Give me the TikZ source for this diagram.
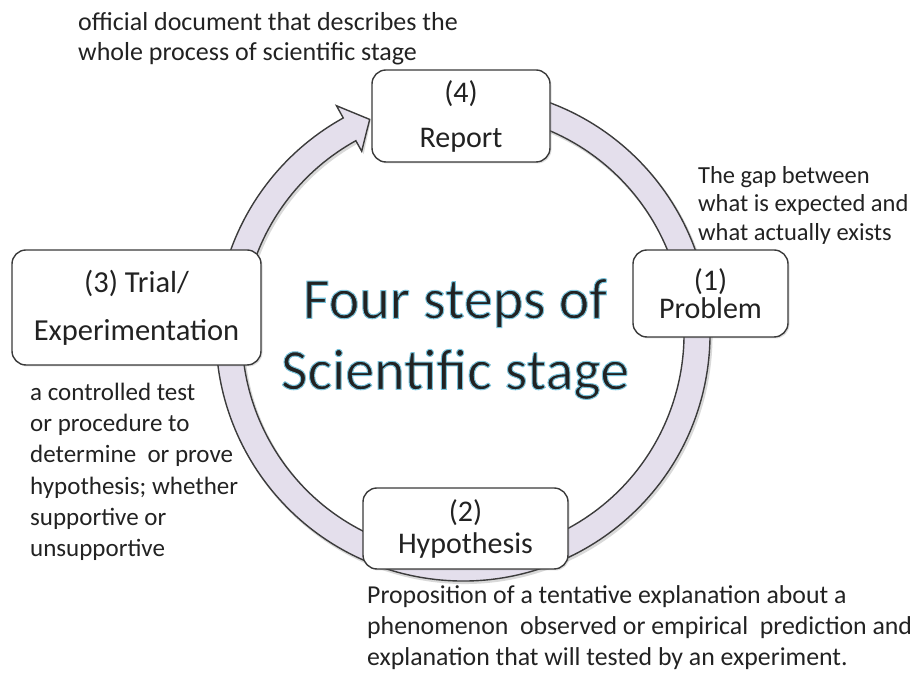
\documentclass[tikz,border=0pt]{standalone}
\usepackage{fontspec}
\setmainfont{Carlito}
\usetikzlibrary{shadows}
\definecolor{boxline}{HTML}{3A3A3A}
\definecolor{ringfill}{HTML}{E4DFEC}
\definecolor{ringline}{HTML}{3C3C3C}
\definecolor{txt}{HTML}{222222}
\newcommand\glowon{\special{pdf:literal direct 2 Tr 1.0 w 0.475 0.765 0.859 RG}}
\newcommand\glowoff{\special{pdf:literal direct 0 Tr}}
\begin{document}
\begin{tikzpicture}[x=1pt,y=1pt,
  stepbox/.style={draw=boxline, line width=1.4pt, fill=white, rounded corners=14pt,
    inner sep=0pt, align=center, text=txt,
    drop shadow={opacity=0.25, shadow xshift=1.5pt, shadow yshift=-1.5pt}},
  desc/.style={anchor=north west, inner sep=0pt, align=left, text=txt},
  ringstyle/.style={fill=ringfill, draw=ringline, line width=1.4pt, line join=miter},
  titlefont/.style={font=\fontsize{58}{71}\selectfont, align=center, inner sep=0pt}]
\useasboundingbox (0,0) rectangle (922,679);
% ring arrow (shadow, then ring)
\begin{scope}[shift={(464.5,343)}]
  \fill[black, opacity=0.15] (80:248pt) arc[start angle=80, end angle=-241, radius=248pt]
    -- (-241:262pt) -- (-246.5:235pt) -- (-241:208pt) -- (-241:220pt)
    arc[start angle=-241, end angle=80, radius=220pt] -- cycle;
\end{scope}
\begin{scope}[shift={(463,345)}]
  \path[ringstyle] (80:247pt) arc[start angle=80, end angle=-241, radius=247pt]
    -- (-241:261pt) -- (-246.5:234pt) -- (-241:209pt) -- (-241:221pt)
    arc[start angle=-241, end angle=80, radius=221pt] -- cycle;
\end{scope}
% title
\node[titlefont, text=txt] (title) at (455,340)
  {\glowon Four steps of\\Scientific stage\glowoff};
% step boxes
\node[stepbox, minimum width=178pt, minimum height=92pt, font=\fontsize{30}{45}\selectfont]
  (report) at (461,563) {(4)\\Report};
\node[stepbox, minimum width=155pt, minimum height=87pt, font=\fontsize{30}{28}\selectfont]
  (problem) at (710.5,385.5) {(1)\\Problem};
\node[stepbox, minimum width=205pt, minimum height=81pt, font=\fontsize{30}{32}\selectfont]
  (hyp) at (465.5,150.5) {(2)\\Hypothesis};
\node[stepbox, minimum width=249pt, minimum height=115pt, font=\fontsize{30.5}{48}\selectfont]
  (trial) at (136.5,371.5) {(3) Trial/\\Experimentation};
% descriptions
\node[desc, font=\fontsize{26}{30}\selectfont] (d4) at (78,667)
  {official document that describes the\\whole process of scientific stage};
\node[desc, font=\fontsize{24.5}{28.5}\selectfont] (d1) at (698,513)
  {The gap between\\what is expected and\\what actually exists};
\node[desc, font=\fontsize{25}{31.2}\selectfont] (d3) at (30,296)
  {a controlled test\\or procedure to\\determine \ or prove\\hypothesis; whether\\supportive or\\unsupportive};
\node[desc, font=\fontsize{25.8}{31}\selectfont] (d2) at (367,94)
  {Proposition of a tentative explanation about a\\phenomenon \ observed or empirical \ prediction and\\explanation that will tested by an experiment.};
\end{tikzpicture}
\end{document}
